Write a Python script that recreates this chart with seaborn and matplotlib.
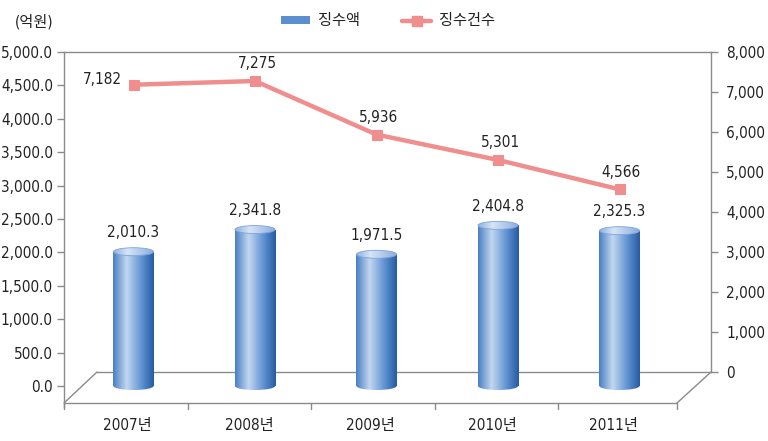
import numpy as np
import pandas as pd
import matplotlib
matplotlib.use("Agg")
import matplotlib.pyplot as plt
import seaborn as sns
from matplotlib.lines import Line2D
from matplotlib.patches import Ellipse, Patch
from matplotlib.colors import LinearSegmentedColormap
from matplotlib.transforms import ScaledTranslation
from matplotlib.ticker import FuncFormatter, MultipleLocator

# ---- data ----
years = ["2007년", "2008년", "2009년", "2010년", "2011년"]
amount = [2010.3, 2341.8, 1971.5, 2404.8, 2325.3]      # 징수액 (억원)
counts = [7182, 7275, 5936, 5301, 4566]                # 징수건수
series_names = ["징수액", "징수건수"]
unit_label = "(억원)"

sns.set_theme(style="white")
plt.rcParams["font.family"] = ["DejaVu Sans", "Noto Sans CJK KR"]
plt.rcParams["font.stretch"] = "condensed"
plt.rcParams["font.size"] = 11
TXT = "#222222"
GRAY = "#8a8a8a"
LINE_C = "#f08e8e"

W, H = 768, 441
fig = plt.figure(figsize=(W / 100, H / 100), dpi=100)
fig.patch.set_facecolor("white")

def fx(x):
    return x / W

def fy(y):
    return 1 - y / H

ax = fig.add_axes([fx(64), fy(410), fx(711) - fx(64), fy(52) - fy(410)])
ax.set_facecolor("none")

df = pd.DataFrame({"year": years, "amount": amount})
sns.barplot(data=df, x="year", y="amount", ax=ax, width=0.33, color="#5b8fd0",
            saturation=1, zorder=2)

upp = 5000 / (386 - 52)
ylo = -(410 - 386) * upp
xlo = (64 - 133.5) / 121.5
xhi = (711 - 133.5) / 121.5

cmap = LinearSegmentedColormap.from_list(
    "cyl", [(0, "#4a80c4"), (0.33, "#c2d7f0"), (0.72, "#5b8fd0"), (1, "#285ca3")])
grad = cmap(np.linspace(0, 1, 64))[None, :, :]
tcmap = LinearSegmentedColormap.from_list(
    "cyltop", [(0, "#8fb2e0"), (0.35, "#d6e4f6"), (1, "#8cade0")])
tgrad = tcmap(np.linspace(0, 1, 64))[None, :, :]
eh = 8 * upp

for p in ax.patches:
    x0, w, h = p.get_x(), p.get_width(), p.get_height()
    cx = x0 + w / 2
    p.set_facecolor("none")
    p.set_edgecolor("none")
    im = ax.imshow(grad, extent=(x0, x0 + w, 0, h), aspect="auto", zorder=2,
                   interpolation="bilinear")
    im.set_clip_path(p)
    bot = Ellipse((cx, 0), w, eh, facecolor="none", edgecolor="none", zorder=2)
    ax.add_patch(bot)
    im2 = ax.imshow(grad, extent=(x0, x0 + w, -eh, eh), aspect="auto", zorder=2,
                    interpolation="bilinear")
    im2.set_clip_path(bot)
    top = Ellipse((cx, h), w, eh, facecolor="none", edgecolor="#7ea3d6",
                  lw=0.6, zorder=3.1)
    ax.add_patch(top)
    im3 = ax.imshow(tgrad, extent=(x0, x0 + w, h - eh, h + eh), aspect="auto",
                    zorder=3, interpolation="bilinear")
    im3.set_clip_path(top)
    ax.annotate(f"{h:,.1f}", (cx, h), xytext=(0, 19), textcoords="offset pixels",
                ha="center", va="center", color=TXT, fontsize=11)

ax.set_xlim(xlo, xhi)
ax.set_ylim(ylo, 5000)
ax.yaxis.set_major_locator(MultipleLocator(500))
ax.yaxis.set_major_formatter(FuncFormatter(lambda v, _: f"{v:,.1f}"))
ax.set_xlabel("")
ax.set_ylabel("")
ax.set_xticks(range(len(years)))
ax.set_xticklabels(years)
ax.tick_params(axis="x", length=0, pad=6, colors=TXT, labelsize=11)
ax.tick_params(axis="y", length=5, width=1, color=GRAY, pad=3, labelcolor=TXT,
               labelsize=11, left=True)
for lab in ax.get_xticklabels():
    lab.set_transform(lab.get_transform() + ScaledTranslation(-6 / 100, 0, fig.dpi_scale_trans))
for s in ["right", "bottom"]:
    ax.spines[s].set_visible(False)
ax.spines["left"].set_color(GRAY)
ax.spines["top"].set_color(GRAY)
ax.spines["left"].set_linewidth(1)
ax.spines["top"].set_linewidth(1)
ax.spines["left"].set_bounds(-(407 - 386) * upp, 5000)

ax2 = ax.twinx()
upp2 = 8000 / (372 - 52)
sns.lineplot(x=np.arange(len(counts)), y=counts, ax=ax2, color=LINE_C, lw=3.2,
             marker="s", markersize=7, markeredgecolor=LINE_C, zorder=4)
ax2.set_ylim(-(410 - 372) * upp2, 8000)
ax2.set_xlim(xlo, xhi)
ax2.yaxis.set_major_locator(MultipleLocator(1000))
ax2.yaxis.set_major_formatter(FuncFormatter(lambda v, _: f"{v:,.0f}"))
ax2.tick_params(axis="y", length=5, width=1, color=GRAY, pad=6, labelcolor=TXT,
                labelsize=11, right=True)
for s in ["left", "top", "bottom"]:
    ax2.spines[s].set_visible(False)
ax2.spines["right"].set_color(GRAY)
ax2.spines["right"].set_linewidth(1)
ax2.spines["right"].set_bounds(0, 8000)
ax2.set_ylabel("")

for i, c in enumerate(counts):
    if i == 0:
        ax2.annotate(f"{c:,}", (i, c), xytext=(-12, 5), textcoords="offset pixels",
                     ha="right", va="center", color=TXT, fontsize=11)
    else:
        ax2.annotate(f"{c:,}", (i, c), xytext=(2, 17), textcoords="offset pixels",
                     ha="center", va="center", color=TXT, fontsize=11)

floor = [
    ([97, 711], [372, 372]),
    ([64, 677], [403, 403]),
    ([64, 97], [403, 372]),
    ([677, 711], [403, 372]),
]
for xs, ys in floor:
    ax.add_line(Line2D([fx(v) for v in xs], [fy(v) for v in ys], transform=fig.transFigure,
                       color=GRAY, lw=1, clip_on=False, zorder=0.5))
for xv in [64, 188, 311, 435, 558, 677]:
    ax.add_line(Line2D([fx(xv), fx(xv)], [fy(403), fy(409)], transform=fig.transFigure,
                       color=GRAY, lw=1, clip_on=False, zorder=0.5))

handles = [Patch(facecolor="#5b8fd0", edgecolor="none"),
           Line2D([0], [0], color=LINE_C, lw=3.2, marker="s", markersize=7)]
fig.legend(handles, series_names, loc="center", bbox_to_anchor=(fx(388), fy(21)),
           ncol=2, frameon=False, fontsize=11, handlelength=1.9, handleheight=0.5,
           columnspacing=2.8, handletextpad=0.5, labelcolor=TXT)

fig.text(fx(15), fy(22), unit_label, ha="left", va="center", color=TXT, fontsize=11)

fig.savefig("out.png", dpi=100, facecolor="white")
